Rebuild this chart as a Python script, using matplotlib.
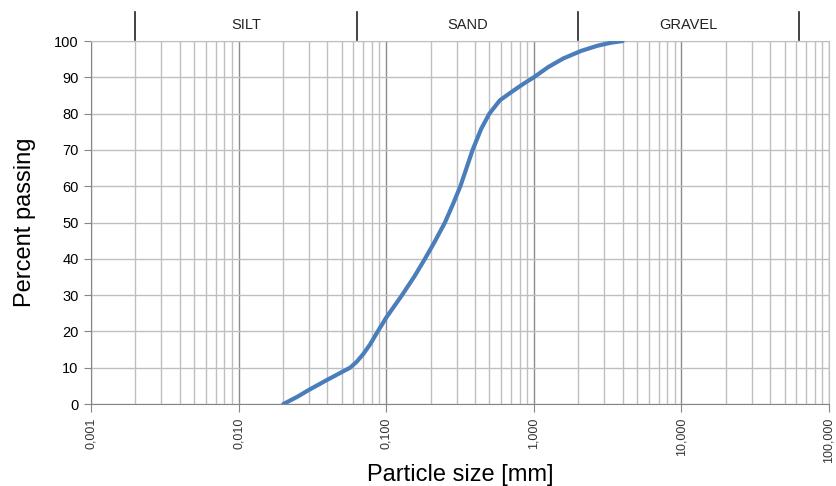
import matplotlib
matplotlib.use('Agg')
import matplotlib.pyplot as plt
from matplotlib.ticker import FixedLocator, LogLocator, NullFormatter
import matplotlib.transforms as mtransforms

plt.rcParams['font.family'] = ['Liberation Sans', 'DejaVu Sans']

# ── Data ──────────────────────────────────────────────────────
size_mm = [0.0201, 0.025, 0.03, 0.035, 0.04, 0.045, 0.05, 0.0569, 0.063, 0.07,
           0.0777, 0.0853, 0.1, 0.127, 0.155, 0.183, 0.215, 0.25, 0.285, 0.318,
           0.35, 0.385, 0.44, 0.50, 0.59, 0.726, 0.85, 1.0, 1.25, 1.585, 2.1,
           2.7, 3.3, 4.0]
passing = [0, 2.0, 3.9, 5.4, 6.7, 7.8, 8.8, 10, 11.6, 13.8,
           16.4, 19.2, 23.8, 29.8, 35.1, 40, 45, 50, 55.3, 60,
           65, 70, 75.8, 80, 83.7, 86.3, 88.2, 90, 92.8, 95.2, 97.3,
           98.7, 99.5, 100]

zone_bounds = [0.002, 0.063, 2.0, 63.0]
zone_names = ['SILT', 'SAND', 'GRAVEL']
xtick_vals = [0.001, 0.01, 0.1, 1, 10, 100]
xtick_labels = ['0,001', '0,010', '0,100', '1,000', '10,000', '100,000']

BLUE = '#4a7ebb'
GRID_MAJ, GRID_MIN, AXIS = '#8c8c8c', '#bfbfbf', '#868686'

fig = plt.figure(figsize=(8.36, 4.86), dpi=100)
ax = fig.add_axes([0.1089, 0.1687, 0.8827, 0.7469])

ax.set_xscale('log')
ax.set_xlim(0.001, 100)
ax.set_ylim(0, 100)

ax.xaxis.set_major_locator(FixedLocator(xtick_vals))
ax.xaxis.set_minor_locator(LogLocator(base=10, subs=range(2, 10)))
ax.xaxis.set_minor_formatter(NullFormatter())
ax.set_xticklabels(xtick_labels, rotation=90, fontsize=9, color='#333333')
ax.set_yticks(range(0, 101, 10))
ax.tick_params(axis='y', labelsize=10.5, length=5, color=AXIS, direction='out', pad=4)
ax.tick_params(axis='x', which='major', length=6, color=AXIS, direction='out', pad=4)
ax.tick_params(axis='x', which='minor', length=0)

ax.grid(which='major', axis='x', color=GRID_MAJ, lw=1.0)
ax.grid(which='minor', axis='x', color=GRID_MIN, lw=1.0)
ax.grid(which='major', axis='y', color=GRID_MIN, lw=1.0)
ax.set_axisbelow(True)

for side in ['top', 'right']:
    ax.spines[side].set_color(GRID_MIN)
for side in ['left', 'bottom']:
    ax.spines[side].set_color(AXIS)

ax.plot(size_mm, passing, color=BLUE, lw=3, solid_joinstyle='round',
        solid_capstyle='round', zorder=5)

# soil zone band above the plot
trans = mtransforms.blended_transform_factory(ax.transData, ax.transAxes)
for b in zone_bounds:
    ax.plot([b, b], [1.003, 1.08], color='#222222', lw=1.2, transform=trans, clip_on=False)
for i, name in enumerate(zone_names):
    xm = (zone_bounds[i] * zone_bounds[i + 1]) ** 0.5
    ax.text(xm, 1.044, name, transform=trans, ha='center', va='center',
            fontsize=10.5, color='#222222')

ax.set_ylabel('Percent passing', fontsize=17, labelpad=13)
ax.set_xlabel('Particle size [mm]', fontsize=17, labelpad=0.5)

fig.savefig('out.png', dpi=100, facecolor='white')
